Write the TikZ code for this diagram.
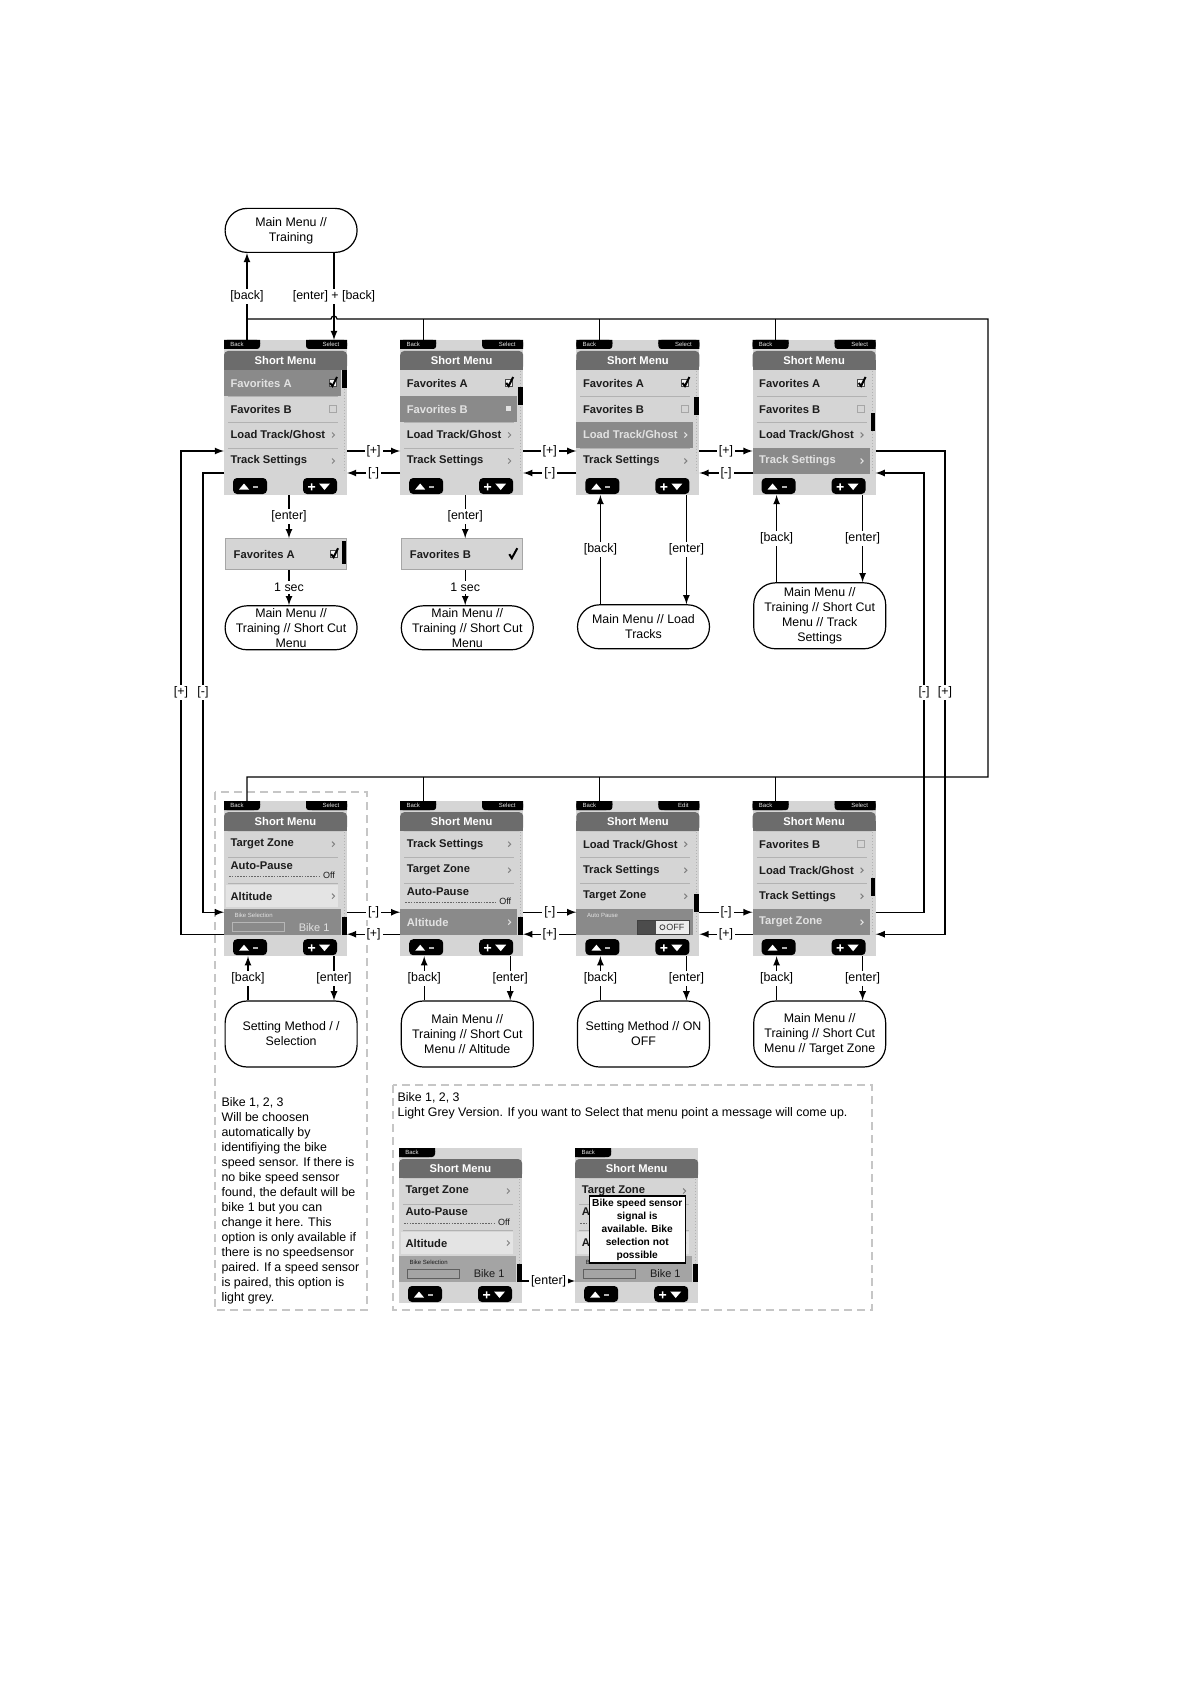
\documentclass[tikz,border=0pt]{standalone}
\usepackage{fontspec}
\setmainfont{Liberation Sans}
\usepackage{tikz}
\usetikzlibrary{positioning, calc}

\definecolor{scrbg}{HTML}{D5D5D5}
\definecolor{scrhead}{HTML}{6C6C6C}
\definecolor{scrhi}{HTML}{8A8A8A}
\definecolor{scrsep}{HTML}{B2B2B2}
\definecolor{scrtxt}{HTML}{1C1C1C}
\definecolor{hitxt}{HTML}{E2E2E2}
\definecolor{rowlight}{HTML}{E4E4E4}
\definecolor{bikegrey}{HTML}{A4A4A4}

\newcommand{\scrfont}{\fontsize{5.6}{6}\selectfont\bfseries}
\newcommand{\lblfont}{\fontsize{6.2}{7.5}\selectfont}
\newcommand{\tabfont}{\fontsize{3}{3.5}\selectfont}
\newcommand{\offfont}{\fontsize{4.5}{5}\selectfont}
\newcommand{\bikefont}{\fontsize{5.5}{6}\selectfont}

% Заготовка экрана
\newcommand{\screenbase}[2]{%
  \fill[scrbg] (0,0) rectangle (123,155);
  \fill[black, rounded corners=1.5pt] (0,0) rectangle (36,9);
  \fill[black] (0,0) rectangle (30,9) (0,0) rectangle (36,4);
  \node[tabtxt] at (13,4.5) {Back};
  \ifx&#2&\else
    \fill[black, rounded corners=1.5pt] (82,0) rectangle (123,9);
    \fill[black] (88,0) rectangle (123,9) (82,0) rectangle (123,4);
    \node[tabtxt] at (107,4.5) {#2};
  \fi
  \fill[scrhead, rounded corners=2pt] (0,11) rectangle (123,30);
  \fill[scrhead] (0,20) rectangle (123,30);
  \node[font=\scrfont, text=white, inner sep=0] at (61.5,20.5) {Short Menu};
  \foreach \y in {56,82,108} \draw[scrsep, line width=0.4pt] (4,\y) -- (114,\y);
  \fill[black, rounded corners=2pt] (9,138) rectangle (43,154) (79,138) rectangle (113,154);
  \fill[white] (15,149.5) -- (20,143.5) -- (25,149.5) -- cycle;
  \fill[gray!60] (29,146) rectangle (34,147.5);
  \fill[white] (84,146) rectangle (91,147.5) (86.75,143.25) rectangle (88.25,150.25);
  \fill[white] (95,143.5) -- (106,143.5) -- (100.5,150) -- cycle;
  \coordinate (#1-top) at (23,0);
  \coordinate (#1-sel) at (110,0);
  \coordinate (#1-bk) at (24,155);
  \coordinate (#1-en) at (110,155);
  \coordinate (#1-mid) at (65,155);
  \coordinate (#1-r1) at (123,111);
  \coordinate (#1-r2) at (123,133);
  \coordinate (#1-l1) at (0,111);
  \coordinate (#1-l2) at (0,133);}
\newcommand{\scrollthumb}[1]{%
  \draw[scrsep, line width=0.5pt, dash pattern=on 0.6pt off 0.9pt] (120,31) -- (120,133);
  \fill[black] (118,#1) rectangle (122.5,#1+18);}

% Строки меню
\newcommand{\menurow}[3]{\begin{scope}[shift={(0,17+26*#1)}]
  \node[rowtxt] at (6,0) {#2}; #3\end{scope}}
\newcommand{\hirow}[3]{\begin{scope}[shift={(0,17+26*#1)}]
  \fill[scrhi] (0,-13) rectangle (117,13);
  \node[rowtxt, text=hitxt] at (6,0) {#2}; #3\end{scope}}
\newcommand{\litrow}[3]{\begin{scope}[shift={(0,17+26*#1)}]
  \fill[rowlight] (2,-11) rectangle (114,11);
  \node[rowtxt] at (6,0) {#2}; #3\end{scope}}
\newcommand{\offrow}[2]{\begin{scope}[shift={(0,17+26*#1)}]
  \node[rowtxt] at (6,-5) {#2};
  \draw[black!60, line width=0.3pt, dash pattern=on 0.8pt off 0.6pt] (5,6) -- (96,6);
  \node[inner sep=0, font=\offfont, text=scrtxt] at (105,5) {Off};\end{scope}}
\newcommand{\bikerow}[3]{\begin{scope}[shift={(0,17+26*#1)}]
  \fill[#2] (0,-13) rectangle (117,13);
  \node[tabtxt, text=#3, anchor=west] at (10,-7) {Bike Selection};
  \draw[#3, line width=0.3pt, opacity=0.5] (8,0) rectangle (60,9);
  \node[anchor=east, inner sep=0, font=\bikefont, text=#3] at (106,5) {Bike 1};\end{scope}}
\newcommand{\togglerow}[1]{\begin{scope}[shift={(0,17+26*#1)}]
  \fill[scrhi] (0,-13) rectangle (117,13);
  \node[tabtxt, text=hitxt, anchor=west] at (10,-7) {Auto Pause};
  \fill[black!70] (61,-2) rectangle (80,12);
  \fill[white!85!gray] (80,-2) rectangle (113,12);
  \draw[black!75, line width=0.5pt] (61,-2) rectangle (113,12);
  \draw[black!75, line width=0.4pt] (86,5) circle (2.5);
  \node[inner sep=0, font=\offfont, text=black!80] at (99,5) {OFF};\end{scope}}

% Значки справа
\newcommand{\arrmark}[1][gray]{\draw[#1, line width=0.5pt] (108,-2.5) -- (110.5,0) -- (108,2.5);}
\newcommand{\emptymark}{\draw[gray!70, line width=0.4pt] (105,-3.5) rectangle (112,3.5);}
\newcommand{\tickmark}{\fill[white!92!gray] (105,-3.5) rectangle (112,3.5);
  \draw[black!70, line width=0.4pt] (105,-3.5) rectangle (112,3.5);
  \draw[black, line width=1pt] (106,0) -- (108.5,3) -- (113,-6);}
\newcommand{\sqmark}{\fill[hitxt] (106,-2.5) rectangle (111,2.5);}

\begin{document}
\begin{tikzpicture}[x=0.5pt, y=-0.5pt, line width=0.6pt]
\tikzstyle{screen} = [rectangle, inner sep=0, minimum width=61.5pt, minimum height=77.5pt, anchor=north west]
\tikzstyle{oval} = [draw, rounded corners=11pt, minimum width=66pt, minimum height=33pt, align=center, inner xsep=2pt, inner ysep=0pt, font=\lblfont, xshift=2.5pt]
\tikzstyle{flatoval} = [oval, minimum height=22pt]
\tikzstyle{strip} = [rectangle, fill=scrbg, draw=gray!70, line width=0.5pt, inner sep=0, minimum width=60.5pt, minimum height=15.5pt]
\tikzstyle{edge} = [-latex, line width=0.6pt]
\tikzstyle{lbl} = [fill=white, inner sep=1pt, font=\lblfont]
\tikzstyle{rowtxt} = [anchor=west, inner sep=0, font=\scrfont, text=scrtxt]
\tikzstyle{tabtxt} = [inner sep=0, font=\tabfont, text=white!80!gray]
\tikzstyle{dashbox} = [draw=gray!45, line width=0.8pt, dash pattern=on 4pt off 2.5pt]
\tikzstyle{note} = [anchor=north west, align=left, inner sep=0, font=\lblfont]

\useasboundingbox (0,0) rectangle (1191,1684);

% Пунктирные рамки
\draw[dashbox] (215,792) rectangle (367,1310);
\draw[dashbox] (393,1085) rectangle (872,1310);

% Создание экранов
\node[screen] (s1) at (224,340) {};
\node[screen, right=26pt of s1] (s2) {};
\node[screen, right=26pt of s2] (s3) {};
\node[screen, right=26pt of s3] (s4) {};
\node[screen, below=152.5pt of s1] (s5) {};
\node[screen, right=26pt of s5] (s6) {};
\node[screen, right=26pt of s6] (s7) {};
\node[screen, right=26pt of s7] (s8) {};
\node[screen] (sa) at (399,1148) {};
\node[screen, right=26pt of sa] (sb) {};

\begin{scope}[shift={(s1.north west)}]
  \screenbase{s1}{Select}
  \hirow{1}{Favorites A}{\tickmark}
  \menurow{2}{Favorites B}{\emptymark}
  \menurow{3}{Load Track/Ghost}{\arrmark}
  \menurow{4}{Track Settings}{\arrmark}
  \scrollthumb{30}
\end{scope}
\begin{scope}[shift={(s2.north west)}]
  \screenbase{s2}{Select}
  \menurow{1}{Favorites A}{\tickmark}
  \hirow{2}{Favorites B}{\sqmark}
  \menurow{3}{Load Track/Ghost}{\arrmark}
  \menurow{4}{Track Settings}{\arrmark}
  \scrollthumb{47}
\end{scope}
\begin{scope}[shift={(s3.north west)}]
  \screenbase{s3}{Select}
  \menurow{1}{Favorites A}{\tickmark}
  \menurow{2}{Favorites B}{\emptymark}
  \hirow{3}{Load Track/Ghost}{\arrmark[hitxt]}
  \menurow{4}{Track Settings}{\arrmark}
  \scrollthumb{57}
\end{scope}
\begin{scope}[shift={(s4.north west)}]
  \screenbase{s4}{Select}
  \menurow{1}{Favorites A}{\tickmark}
  \menurow{2}{Favorites B}{\emptymark}
  \menurow{3}{Load Track/Ghost}{\arrmark}
  \hirow{4}{Track Settings}{\arrmark[hitxt]}
  \scrollthumb{73}
\end{scope}
\begin{scope}[shift={(s5.north west)}]
  \screenbase{s5}{Select}
  \menurow{1}{Target Zone}{\arrmark}
  \offrow{2}{Auto-Pause}
  \litrow{3}{Altitude}{\arrmark}
  \bikerow{4}{scrhi}{hitxt}
  \scrollthumb{116}
\end{scope}
\begin{scope}[shift={(s6.north west)}]
  \screenbase{s6}{Select}
  \menurow{1}{Track Settings}{\arrmark}
  \menurow{2}{Target Zone}{\arrmark}
  \offrow{3}{Auto-Pause}
  \hirow{4}{Altitude}{\arrmark[hitxt]}
  \scrollthumb{116}
\end{scope}
\begin{scope}[shift={(s7.north west)}]
  \screenbase{s7}{Edit}
  \menurow{1}{Load Track/Ghost}{\arrmark}
  \menurow{2}{Track Settings}{\arrmark}
  \menurow{3}{Target Zone}{\arrmark}
  \togglerow{4}
  \scrollthumb{93}
\end{scope}
\begin{scope}[shift={(s8.north west)}]
  \screenbase{s8}{Select}
  \menurow{1}{Favorites B}{\emptymark}
  \menurow{2}{Load Track/Ghost}{\arrmark}
  \menurow{3}{Track Settings}{\arrmark}
  \hirow{4}{Target Zone}{\arrmark[hitxt]}
  \scrollthumb{77}
\end{scope}
\begin{scope}[shift={(sa.north west)}]
  \screenbase{sa}{}
  \menurow{1}{Target Zone}{\arrmark}
  \offrow{2}{Auto-Pause}
  \litrow{3}{Altitude}{\arrmark}
  \bikerow{4}{bikegrey}{scrtxt}
  \scrollthumb{116}
\end{scope}
\begin{scope}[shift={(sb.north west)}]
  \screenbase{sb}{}
  \menurow{1}{Target Zone}{\arrmark}
  \offrow{2}{A}
  \litrow{3}{A}{\arrmark}
  \bikerow{4}{bikegrey}{scrtxt}
  \scrollthumb{116}
  % Сообщение
  \fill[white] (14,48) rectangle (110,115);
  \draw[black, line width=0.6pt] (14,48) rectangle (110,115);
  \node[font=\fontsize{5.1}{6.5}\selectfont\bfseries, align=center, inner sep=0] at (62,81.5)
    {Bike speed sensor\\signal is\\available. Bike\\selection not\\possible};
\end{scope}

% Выбранные пункты и меню
\node[flatoval, above=43.5pt of s1] (m0) {Main Menu //\\Training};
\node[strip, below=21pt of s1] (f1) {};
\node[strip, below=21pt of s2] (f2) {};
\node[rowtxt] at ([xshift=4pt]f1.west) {Favorites A};
\node[rowtxt] at ([xshift=4pt]f2.west) {Favorites B};
\begin{scope}[shift={(f1.west)}]
  \tickmark
  \fill[black] (117,-13) rectangle (121,10);
\end{scope}
\begin{scope}[shift={(f2.west)}]
  \draw[black, line width=1pt] (108,0) -- (110.5,4) -- (116,-6);
\end{scope}
\node[flatoval, below=17.5pt of f1] (o1) {Main Menu //\\Training // Short Cut\\Menu};
\node[flatoval, below=17.5pt of f2] (o2) {Main Menu //\\Training // Short Cut\\Menu};
\node[flatoval, below=54pt of s3] (o3) {Main Menu // Load\\Tracks};
\node[oval, below=43pt of s4] (o4) {Main Menu //\\Training // Short Cut\\Menu // Track\\Settings};
\node[oval, below=21.5pt of s5] (o5) {Setting Method / /\\Selection};
\node[oval, below=21.5pt of s6] (o6) {Main Menu //\\Training // Short Cut\\Menu // Altitude};
\node[oval, below=21.5pt of s7] (o7) {Setting Method // ON\\OFF};
\node[oval, below=21.5pt of s8] (o8) {Main Menu //\\Training // Short Cut\\Menu // Target Zone};

% Линия возврата [back]
\coordinate (busr) at (988,319);
\coordinate (busb) at (988,777);
\draw (s1-top |- busr) -- ($(s1-sel |- busr)+(-3,0)$) arc (180:360:3) -- (busr) -- (busb) -- (s5-top |- busb) -- (s5-top);
\foreach \s in {s2,s3,s4} \draw (\s-top |- busr) -- (\s-top);
\foreach \s in {s6,s7,s8} \draw (\s-top |- busb) -- (\s-top);
\draw[edge] (s1-top) -- node[lbl] {[back]} (s1-top |- m0.south);
\draw[edge] (s1-sel |- m0.south) -- node[lbl] {[enter] + [back]} (s1-sel);

% Переходы [+] и [-]
\draw[edge] (s1-r1) -- node[lbl] {[+]} (s2-l1);
\draw[edge] (s2-l2) -- node[lbl] {[-]} (s1-r2);
\draw[edge] (s2-r1) -- node[lbl] {[+]} (s3-l1);
\draw[edge] (s3-l2) -- node[lbl] {[-]} (s2-r2);
\draw[edge] (s3-r1) -- node[lbl] {[+]} (s4-l1);
\draw[edge] (s4-l2) -- node[lbl] {[-]} (s3-r2);
\draw[edge] (s5-r1) -- node[lbl] {[-]} (s6-l1);
\draw[edge] (s6-l2) -- node[lbl] {[+]} (s5-r2);
\draw[edge] (s6-r1) -- node[lbl] {[-]} (s7-l1);
\draw[edge] (s7-l2) -- node[lbl] {[+]} (s6-r2);
\draw[edge] (s7-r1) -- node[lbl] {[-]} (s8-l1);
\draw[edge] (s8-l2) -- node[lbl] {[+]} (s7-r2);
\draw[edge] (sa-r2) -- node[lbl] {[enter]} (sb-l2);

% Внешние петли
\coordinate (lo) at (181,0);
\coordinate (li) at (203,0);
\coordinate (ri) at (924,0);
\coordinate (ro) at (945,0);
\draw[edge] (s5-l2) -- (s5-l2 -| lo) -- node[lbl] {[+]} (s1-l1 -| lo) -- (s1-l1);
\draw[edge] (s1-l2) -- (s1-l2 -| li) -- node[lbl] {[-]} (s5-l1 -| li) -- (s5-l1);
\draw[edge] (s4-r1) -- (s4-r1 -| ro) -- node[lbl] {[+]} (s8-r2 -| ro) -- (s8-r2);
\draw[edge] (s8-r1) -- (s8-r1 -| ri) -- node[lbl] {[-]} (s4-r2 -| ri) -- (s4-r2);

% Переходы вниз
\draw[edge] (s1-mid) -- node[lbl] {[enter]} (s1-mid |- f1.north);
\draw[edge] (s1-mid |- f1.south) -- node[lbl] {1 sec} (s1-mid |- o1.north);
\draw[edge] (s2-mid) -- node[lbl] {[enter]} (s2-mid |- f2.north);
\draw[edge] (s2-mid |- f2.south) -- node[lbl] {1 sec} (s2-mid |- o2.north);
\draw[edge] (s3-bk |- o3.north) -- node[lbl] {[back]} (s3-bk);
\draw[edge] (s3-en) -- node[lbl] {[enter]} (s3-en |- o3.north);
\draw[edge] (s4-bk |- o4.north) -- node[lbl] {[back]} (s4-bk);
\draw[edge] (s4-en) -- node[lbl] {[enter]} (s4-en |- o4.north);
\draw[edge] (s5-bk |- o5.north) -- node[lbl] {[back]} (s5-bk);
\draw[edge] (s5-en) -- node[lbl] {[enter]} (s5-en |- o5.north);
\draw[edge] (s6-bk |- o6.north) -- node[lbl] {[back]} (s6-bk);
\draw[edge] (s6-en) -- node[lbl] {[enter]} (s6-en |- o6.north);
\draw[edge] (s7-bk |- o7.north) -- node[lbl] {[back]} (s7-bk);
\draw[edge] (s7-en) -- node[lbl] {[enter]} (s7-en |- o7.north);
\draw[edge] (s8-bk |- o8.north) -- node[lbl] {[back]} (s8-bk);
\draw[edge] (s8-en) -- node[lbl] {[enter]} (s8-en |- o8.north);

% Примечания
\node[note] (n1) at (221,1097) {Bike 1, 2, 3\\Will be choosen\\automatically by\\identifiying the bike\\speed sensor. If there is\\no bike speed sensor\\found, the default will be\\bike 1 but you can\\change it here. This\\option is only available if\\there is no speedsensor\\paired. If a speed sensor\\is paired, this option is\\light grey.};
\node[note] (n2) at (397,1092) {Bike 1, 2, 3\\Light Grey Version. If you want to Select that menu point a message will come up.};
\end{tikzpicture}
\end{document}
